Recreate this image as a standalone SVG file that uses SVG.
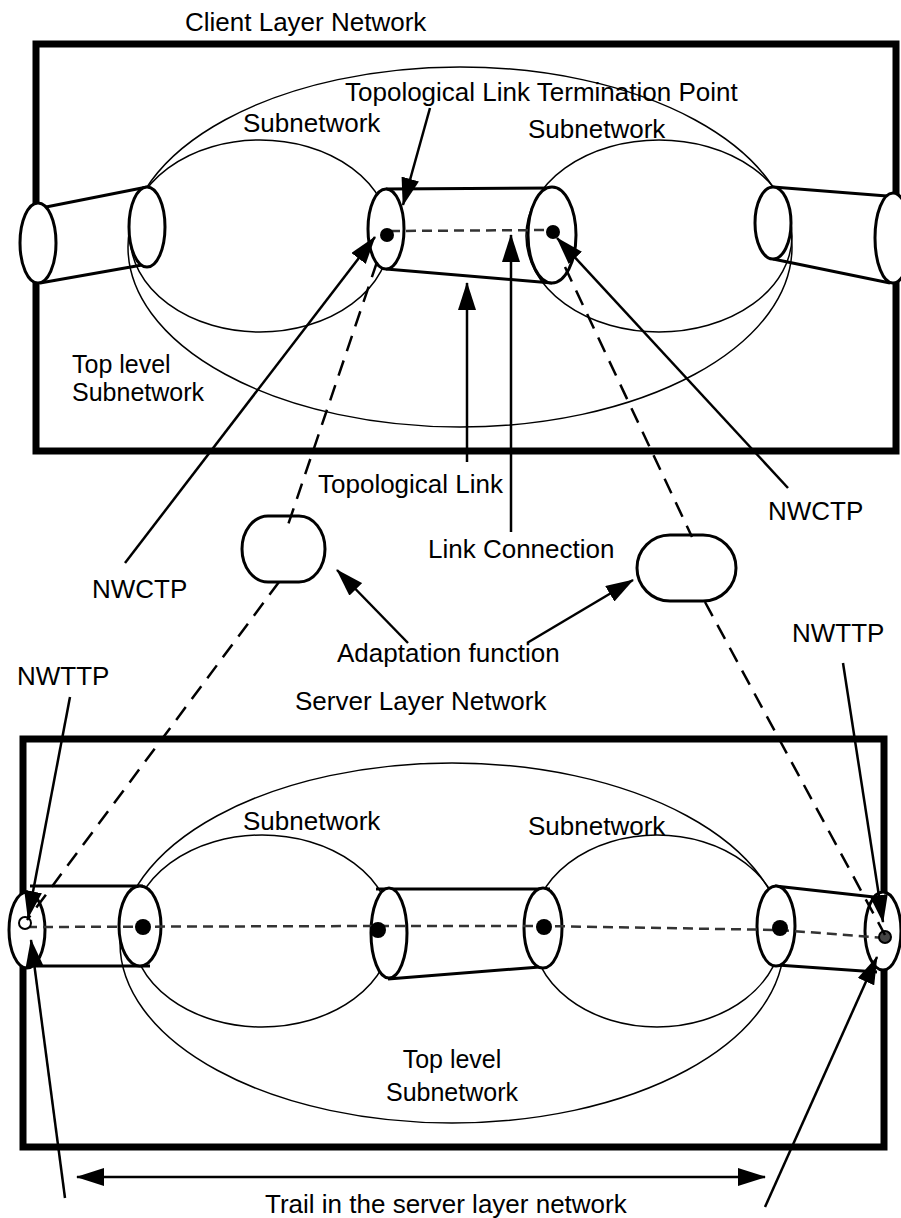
<svg xmlns="http://www.w3.org/2000/svg" width="901" height="1218" viewBox="0 0 901 1218">
<style>
.box{fill:none;stroke:#000;stroke-width:7}
.sn{fill:none;stroke:#000;stroke-width:1.5}
.cl{fill:none;stroke:#000;stroke-width:3}
.ce{fill:#fff;stroke:#000;stroke-width:3}
.dot{fill:#000}
.lc{fill:none;stroke:#333;stroke-width:2.5;stroke-dasharray:10 6}
.ad{fill:none;stroke:#000;stroke-width:2.5;stroke-dasharray:16 10}
.arr{fill:none;stroke:#000;stroke-width:2.5;marker-end:url(#ah)}
.af{fill:#fff;stroke:#000;stroke-width:3}
text{font-family:"Liberation Sans",Arial,Helvetica,sans-serif;font-size:26px;fill:#000}
.tight{font-size:25px}
</style>
<defs>
<marker id="ah" markerUnits="userSpaceOnUse" markerWidth="28" markerHeight="18" refX="27" refY="9" orient="auto">
<path d="M0,0 L28,9 L0,18 z" fill="#000"/>
</marker>
<marker id="ahs" markerUnits="userSpaceOnUse" markerWidth="28" markerHeight="18" refX="1" refY="9" orient="auto">
<path d="M28,0 L0,9 L28,18 z" fill="#000"/>
</marker>
</defs>
<rect width="901" height="1218" fill="#fff"/>

<g id="client-layer">
<rect class="box" x="36" y="44" width="860" height="407"/>
</g>
<g id="client-top-subnetwork"><ellipse class="sn" cx="460" cy="247" rx="332" ry="180"/></g>
<g id="client-subnetwork-left"><ellipse class="sn" cx="260" cy="236" rx="130" ry="96"/></g>
<g id="client-subnetwork-right"><ellipse class="sn" cx="659" cy="236" rx="133" ry="96"/></g>

<g id="client-cylinder-left">
<line class="cl" x1="46" y1="207" x2="147" y2="187"/>
<line class="cl" x1="40" y1="283" x2="142" y2="265"/>
<ellipse class="ce" cx="38" cy="243" rx="18" ry="40"/>
<ellipse class="ce" cx="147" cy="227" rx="18" ry="40"/>
</g>
<g id="client-cylinder-right">
<line class="cl" x1="773" y1="187" x2="887" y2="196"/>
<line class="cl" x1="773" y1="259" x2="890" y2="283"/>
<ellipse class="ce" cx="773" cy="223" rx="18" ry="36"/>
<ellipse class="ce" cx="893" cy="238" rx="18" ry="45"/>
</g>
<g id="client-topological-link">
<line class="cl" x1="386" y1="189" x2="556" y2="188"/>
<line class="cl" x1="386" y1="269" x2="552" y2="283"/>
<ellipse class="ce" cx="386" cy="229" rx="18" ry="40"/>
<ellipse class="ce" cx="552" cy="235" rx="24" ry="48"/>
<line class="lc" x1="390" y1="231" x2="550" y2="230"/>
<circle class="dot" cx="387" cy="235" r="7"/>
<circle class="dot" cx="553" cy="232" r="7"/>
</g>

<g id="server-layer">
<rect class="box" x="23" y="739" width="861" height="408"/>
</g>
<g id="server-top-subnetwork"><ellipse class="sn" cx="452" cy="943" rx="332" ry="180"/></g>
<g id="server-subnetwork-left"><ellipse class="sn" cx="262" cy="931" rx="130" ry="96"/></g>
<g id="server-subnetwork-right"><ellipse class="sn" cx="657" cy="931" rx="125" ry="96"/></g>

<g id="server-cylinder-left">
<line class="cl" x1="30" y1="886" x2="143" y2="886"/>
<line class="cl" x1="30" y1="966" x2="150" y2="966"/>
<ellipse class="ce" cx="27" cy="930" rx="18" ry="38"/>
<ellipse class="ce" cx="140" cy="926" rx="21" ry="40"/>
</g>
<g id="server-cylinder-middle">
<line class="cl" x1="376" y1="889" x2="550" y2="889"/>
<line class="cl" x1="388" y1="979" x2="540" y2="967"/>
<ellipse class="ce" cx="389" cy="933" rx="18" ry="45"/>
<ellipse class="ce" cx="543" cy="928" rx="19" ry="40"/>
</g>
<g id="server-cylinder-right">
<line class="cl" x1="775" y1="886" x2="874" y2="897"/>
<line class="cl" x1="777" y1="965" x2="877" y2="972"/>
<ellipse class="ce" cx="776" cy="926" rx="19" ry="40"/>
<ellipse class="ce" cx="883" cy="931" rx="18" ry="39"/>
</g>
<g id="server-trail">
<polyline class="lc" points="27,927 378,926 544,926 780,930 885,938"/>
<circle class="dot" cx="143" cy="927" r="8"/>
<circle class="dot" cx="378" cy="930" r="8"/>
<circle class="dot" cx="544" cy="927" r="8"/>
<circle class="dot" cx="780" cy="928" r="8"/>
<circle cx="25" cy="923" r="6" fill="#fff" stroke="#000" stroke-width="2"/>
<circle cx="885" cy="937" r="6" fill="#444" stroke="#000" stroke-width="2"/>
</g>

<g id="adaptation-left"><rect class="af" x="242" y="516" width="83" height="66" rx="26" ry="33"/></g>
<g id="adaptation-right"><rect class="af" x="637" y="535" width="99" height="66" rx="33" ry="33"/></g>

<g id="connectors">
<line class="ad" x1="377" y1="262" x2="288" y2="525"/>
<line class="ad" x1="279" y1="582" x2="27" y2="920"/>
<line class="ad" x1="565" y1="267" x2="692" y2="537"/>
<line class="ad" x1="705" y1="602" x2="885" y2="935"/>
<line class="arr" x1="430" y1="108" x2="403" y2="205"/>
<line class="arr" x1="125" y1="563" x2="375" y2="237"/>
<line class="arr" x1="788" y1="488" x2="557" y2="238"/>
<line class="arr" x1="467" y1="462" x2="467" y2="283"/>
<line class="arr" x1="511" y1="532" x2="511" y2="235"/>
<line class="arr" x1="408" y1="643" x2="337" y2="570"/>
<line class="arr" x1="527" y1="643" x2="633" y2="580"/>
<line class="arr" x1="70" y1="697" x2="28" y2="918"/>
<line class="arr" x1="65" y1="1198" x2="31" y2="940"/>
<line class="arr" x1="843" y1="663" x2="883" y2="922"/>
<line class="arr" x1="765" y1="1207" x2="877" y2="957"/>
<line x1="77" y1="1177" x2="765" y2="1177" stroke="#000" stroke-width="2.5" marker-start="url(#ahs)" marker-end="url(#ah)"/>
</g>

<g id="labels">
<text x="185" y="31">Client Layer Network</text>
<text x="345" y="101">Topological Link Termination Point</text>
<text x="243" y="132">Subnetwork</text>
<text x="528" y="138">Subnetwork</text>
<text class="tight" x="72" y="373">Top level</text>
<text class="tight" x="72" y="401">Subnetwork</text>
<text x="318" y="493">Topological Link</text>
<text x="428" y="558">Link Connection</text>
<text x="768" y="520">NWCTP</text>
<text x="92" y="598">NWCTP</text>
<text x="337" y="662">Adaptation function</text>
<text x="17" y="685">NWTTP</text>
<text x="792" y="642">NWTTP</text>
<text x="295" y="710">Server Layer Network</text>
<text x="243" y="830">Subnetwork</text>
<text x="528" y="835">Subnetwork</text>
<text class="tight" x="452" y="1068" text-anchor="middle">Top level</text>
<text class="tight" x="452" y="1101" text-anchor="middle">Subnetwork</text>
<text x="265" y="1213">Trail in the server layer network</text>
</g>
</svg>
